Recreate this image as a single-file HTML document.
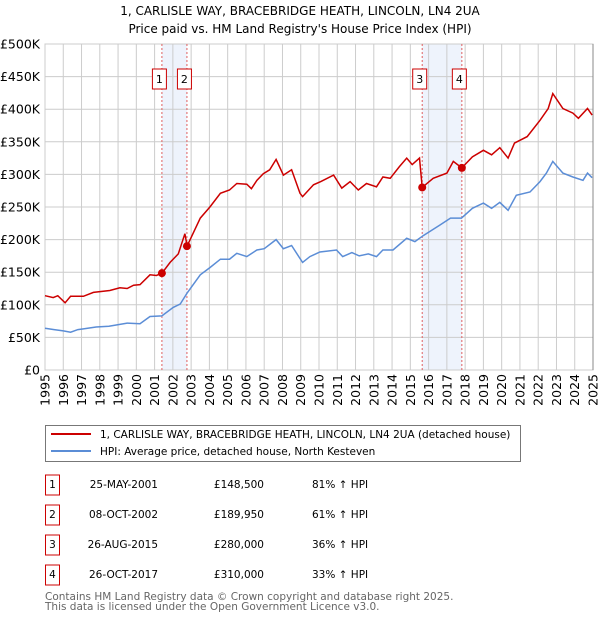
<!DOCTYPE html>
<html><head><meta charset="utf-8"><style>
body{margin:0;background:#fff;font-family:"DejaVu Sans","Liberation Sans",sans-serif;}
#wrap{position:relative;width:600px;height:620px;overflow:hidden;}
</style></head><body>
<div id="wrap">
<svg id="chart" width="600" height="620" style="position:absolute;left:0;top:0" font-family="DejaVu Sans, Liberation Sans, sans-serif"></svg>
</div>
<script>
const hpiYears=[1995,1995.5,1996,1996.4,1996.8,1997.1,1997.8,1998.5,1999.5,2000.2,2000.75,2001.4,2002.02,2002.4,2002.78,2003.5,2004.03,2004.6,2005.1,2005.5,2006.05,2006.6,2007,2007.65,2008.05,2008.5,2008.96,2009.1,2009.5,2010.05,2010.96,2011.3,2011.8,2012.2,2012.7,2013.15,2013.5,2014.05,2014.8,2015.25,2015.7,2016.6,2017.2,2017.8,2018.4,2019,2019.45,2019.9,2020.35,2020.8,2021.55,2022.1,2022.45,2022.8,2023.35,2023.9,2024.45,2024.7,2024.95];
const hpiValues=[64,62,60,58,62,63,66,67,72,71,82,83,96,101,118,146,157,170,170,179,174,184,186,200,186,191,171,165,174,181,184,174,180,175,178,174,184,184,202,197,206,222,233,233,248,256,248,257,245,268,273,289,302,320,302,296,291,302,295];
const priceYears=[1995,1995.45,1995.7,1996.1,1996.4,1997.1,1997.65,1998.55,1999.1,1999.5,1999.85,2000.2,2000.75,2001.1,2001.4,2001.85,2002.3,2002.66,2002.78,2003.5,2004.03,2004.6,2005.1,2005.5,2006.05,2006.3,2006.6,2006.95,2007.3,2007.65,2008.05,2008.5,2008.96,2009.1,2009.7,2010.1,2010.8,2011.25,2011.7,2012.15,2012.6,2013.15,2013.5,2013.9,2014.4,2014.8,2015.1,2015.5,2015.65,2016.25,2017,2017.35,2017.82,2018.4,2019,2019.45,2019.9,2020.35,2020.7,2021.4,2022.1,2022.55,2022.8,2023.35,2023.9,2024.2,2024.7,2024.95];
const priceValues=[114,111,114,103,113,113,119,122,126,125,130,131,146,145,148.5,165,178,209,190,233,250,271,276,286,285,278,291,301,307,323,299,307,271,266,284,289,299,279,289,276,286,281,296,294,312,325,315,325,280,294,302,320,310,327,337,330,341,325,348,358,383,401,424,401,394,386,401,391];
const saleLabels=["1","2","3","4"];
const saleYears=[2001.4,2002.77,2015.65,2017.82];
const salePrices=[148.5,189.95,280,310];
const yTicks=[0,50,100,150,200,250,300,350,400,450,500];
const yTickLabels=["£0","£50K","£100K","£150K","£200K","£250K","£300K","£350K","£400K","£450K","£500K"];
const xTicks=[1995,1996,1997,1998,1999,2000,2001,2002,2003,2004,2005,2006,2007,2008,2009,2010,2011,2012,2013,2014,2015,2016,2017,2018,2019,2020,2021,2022,2023,2024,2025];

const L=45,R=593,T=44,B=370;
const xs=y=>L+(y-1995)/30*(R-L);
const ys=v=>B-v/500*(B-T);
const svg=document.getElementById('chart');
const NS='http://www.w3.org/2000/svg';
function mk(tag,attrs,parent){const e=document.createElementNS(NS,tag);for(const k in attrs)e.setAttribute(k,attrs[k]);(parent||svg).appendChild(e);return e;}

let e;
e=mk('text',{x:300,y:15,'text-anchor':'middle','font-size':12});e.textContent='1, CARLISLE WAY, BRACEBRIDGE HEATH, LINCOLN, LN4 2UA';


e=mk('text',{x:300,y:33,'text-anchor':'middle','font-size':12});e.textContent="Price paid vs. HM Land Registry's House Price Index (HPI)";



for(let i=0;i<4;i+=2){
  e=mk('rect',{x:xs(saleYears[i]),y:T,width:xs(saleYears[i+1])-xs(saleYears[i]),height:B-T,fill:'#eef3fc'});
  
  
}
yTicks.forEach((v,i)=>{
  e=mk('line',{x1:L,x2:R,y1:ys(v),y2:ys(v),stroke:'#cccccc','stroke-width':1});
  
  
  e=mk('text',{x:40,y:ys(v)+4.5,'text-anchor':'end','font-size':12.5});e.textContent=yTickLabels[i];
  
  
});
xTicks.forEach(y=>{
  e=mk('line',{x1:xs(y),x2:xs(y),y1:T,y2:B,stroke:'#cccccc','stroke-width':1});
  
  
  const tx=xs(y)+4.5,ty=374;
  e=mk('text',{x:tx,y:ty,'text-anchor':'end','font-size':12.5,transform:`rotate(-90 ${tx} ${ty})`});e.textContent=y;
  
  
});
e=mk('rect',{x:L,y:T,width:R-L,height:B-T,fill:'none',stroke:'#cccccc'});


e=mk('line',{x1:R,x2:R,y1:T,y2:B,stroke:'#888'});


saleYears.forEach((y,i)=>{
  e=mk('line',{x1:xs(y),x2:xs(y),y1:T,y2:B,stroke:'#e06060','stroke-width':1,'stroke-dasharray':'2,2'});
  
  
  const cx=xs(y)-2.5;
  e=mk('rect',{x:cx-7,y:69,width:14,height:20,fill:'#fff',stroke:'#cc0000'});
  
  
  e=mk('text',{x:cx,y:83,'text-anchor':'middle','font-size':11});e.textContent=saleLabels[i];
  
  
});
const pts=(xa,va)=>xa.map((x,i)=>xs(x).toFixed(1)+','+ys(va[i]).toFixed(1)).join(' ');
e=mk('polyline',{points:pts(hpiYears,hpiValues),fill:'none',stroke:'#5b8dd6','stroke-width':1.5});


e=mk('polyline',{points:pts(priceYears,priceValues),fill:'none',stroke:'#cc0000','stroke-width':1.5});


saleYears.forEach((y,i)=>{
  e=mk('circle',{cx:xs(y),cy:ys(salePrices[i]),r:4,fill:'#cc0000'});
  
  
});
e=mk('rect',{x:45.5,y:425.5,width:475,height:36,fill:'#fff',stroke:'#777'});


e=mk('line',{x1:51,x2:91,y1:434,y2:434,stroke:'#cc0000','stroke-width':2});


e=mk('text',{x:100,y:438,'font-size':10.5});e.textContent='1, CARLISLE WAY, BRACEBRIDGE HEATH, LINCOLN, LN4 2UA (detached house)';


e=mk('line',{x1:51,x2:91,y1:451,y2:451,stroke:'#5b8dd6','stroke-width':2});


e=mk('text',{x:100,y:455,'font-size':10.5});e.textContent='HPI: Average price, detached house, North Kesteven';


const dates=["25-MAY-2001","08-OCT-2002","26-AUG-2015","26-OCT-2017"];
const prices=["£148,500","£189,950","£280,000","£310,000"];
const pcts=["81% ↑ HPI","61% ↑ HPI","36% ↑ HPI","33% ↑ HPI"];
for(let i=0;i<4;i++){
  const cy=485+i*30;
  e=mk('rect',{x:45.5,y:cy-10,width:14,height:20,fill:'#fff',stroke:'#cc0000'});
  
  
  e=mk('text',{x:52.5,y:cy+3,'text-anchor':'middle','font-size':10.5});e.textContent=saleLabels[i];
  
  
  e=mk('text',{x:158,y:cy+3,'text-anchor':'end','font-size':10.5});e.textContent=dates[i];
  
  
  e=mk('text',{x:264,y:cy+3,'text-anchor':'end','font-size':10.5});e.textContent=prices[i];
  
  
  e=mk('text',{x:312,y:cy+3,'font-size':10.5});e.textContent=pcts[i];
  
  
}
e=mk('text',{x:45,y:600,'font-size':10.5,fill:'#666'});e.textContent='Contains HM Land Registry data © Crown copyright and database right 2025.';


e=mk('text',{x:45,y:610,'font-size':10.5,fill:'#666'});e.textContent='This data is licensed under the Open Government Licence v3.0.';


</script>
</body></html>
